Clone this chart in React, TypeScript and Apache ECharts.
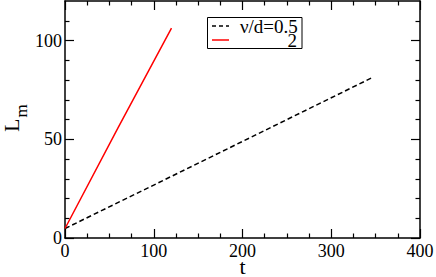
import React, { useEffect, useRef } from "react";
import * as echarts from "echarts";

const tDashed = [0, 100, 200, 300, 347];
const lmDashed = [4.8, 26.8, 48.9, 71.0, 81.4];
const tRed = [0, 60, 120];
const lmRed = [4.8, 56.0, 106.3];
const seriesNames = ["ν/d=0.5", "2"];
const xTicks = [0, 100, 200, 300, 400];
const yTicks = [0, 50, 100];
const yNameMain = "L";
const yNameSub = "m";
const xName = "t";

const FONT = "'Liberation Serif', 'DejaVu Serif', serif";

export default function App() {
  const ref = useRef<HTMLDivElement>(null);
  useEffect(() => {
    if (!ref.current) return;
    const chart = echarts.init(ref.current, undefined, { renderer: "svg" });
    const axisCommon = {
      type: "value" as const,
      axisLine: { show: true, onZero: false, lineStyle: { color: "#000", width: 1.5 } },
      axisTick: { show: true, inside: true, length: 9, lineStyle: { color: "#000", width: 1.2 } },
      minorTick: { show: true, length: 4.5, lineStyle: { color: "#000", width: 1.2 } },
      splitLine: { show: false },
      minorSplitLine: { show: false },
    };
    chart.setOption({
      animation: false,
      backgroundColor: "#fff",
      textStyle: { fontFamily: FONT },
      grid: { left: 65, right: 16, top: 1, bottom: 39, containLabel: false, outerBoundsMode: "none" },
      xAxis: [
        {
          ...axisCommon,
          min: xTicks[0],
          max: xTicks[xTicks.length - 1],
          interval: 100,
          minorTick: { ...axisCommon.minorTick, splitNumber: 4 },
          axisLabel: { color: "#000", fontSize: 18, fontFamily: FONT, margin: 4 },
          name: xName,
          nameLocation: "middle",
          nameGap: 17,
          nameMoveOverlap: false,
          nameTextStyle: { color: "#000", fontSize: 22, fontFamily: FONT },
        },
        {
          ...axisCommon,
          position: "top",
          min: xTicks[0],
          max: xTicks[xTicks.length - 1],
          interval: 100,
          minorTick: { ...axisCommon.minorTick, splitNumber: 4 },
          axisLabel: { show: false },
        },
      ],
      yAxis: [
        {
          ...axisCommon,
          min: 0,
          max: 120,
          interval: 50,
          minorTick: { ...axisCommon.minorTick, splitNumber: 5 },
          axisLabel: {
            color: "#000",
            fontSize: 18,
            fontFamily: FONT,
            margin: 3,
            customValues: yTicks,
          },
          axisTick: { ...axisCommon.axisTick, customValues: yTicks },
        },
        {
          ...axisCommon,
          position: "right",
          min: 0,
          max: 120,
          interval: 50,
          minorTick: { ...axisCommon.minorTick, splitNumber: 5 },
          axisTick: { ...axisCommon.axisTick, customValues: yTicks },
          axisLabel: { show: false },
        },
      ],
      graphic: [
        {
          type: "text",
          x: 11,
          y: 132,
          rotation: Math.PI / 2,
          style: { text: yNameMain, fill: "#000", font: `22px ${FONT}`, align: "left", verticalAlign: "middle" },
        },
        {
          type: "text",
          x: 21.5,
          y: 117.5,
          rotation: Math.PI / 2,
          style: { text: yNameSub, fill: "#000", font: `17px ${FONT}`, align: "left", verticalAlign: "middle" },
        },
        {
          type: "rect",
          shape: { x: 207.5, y: 17.5, width: 94.5, height: 31 },
          style: { fill: "#fff", stroke: "#000", lineWidth: 1 },
          z: 100,
        },
        {
          type: "line",
          shape: { x1: 212, y1: 26, x2: 229, y2: 26 },
          style: { stroke: "#000", lineWidth: 1.5, lineDash: [4, 3] },
          z: 101,
        },
        {
          type: "text",
          x: 240,
          y: 26,
          style: { text: seriesNames[0], fill: "#000", font: `19px ${FONT}`, verticalAlign: "middle" },
          z: 101,
        },
        {
          type: "line",
          shape: { x1: 212, y1: 40, x2: 229, y2: 40 },
          style: { stroke: "#ff0000", lineWidth: 1.5 },
          z: 101,
        },
        {
          type: "text",
          x: 297,
          y: 40.5,
          style: { text: seriesNames[1], fill: "#000", font: `19px ${FONT}`, align: "right", verticalAlign: "middle" },
          z: 101,
        },
      ],
      series: [
        {
          name: seriesNames[0],
          type: "line",
          xAxisIndex: 0,
          yAxisIndex: 0,
          data: tDashed.map((t, i) => [t, lmDashed[i]]),
          showSymbol: false,
          symbol: "none",
          lineStyle: { color: "#000", width: 1.5, type: [5, 3] },
          itemStyle: { color: "#000" },
        },
        {
          name: seriesNames[1],
          type: "line",
          xAxisIndex: 0,
          yAxisIndex: 0,
          data: tRed.map((t, i) => [t, lmRed[i]]),
          showSymbol: false,
          symbol: "none",
          lineStyle: { color: "#ff0000", width: 1.5 },
          itemStyle: { color: "#ff0000" },
        },
      ],
    });
    return () => chart.dispose();
  }, []);
  return <div ref={ref} style={{ width: 436, height: 277, position: "fixed", left: 0, top: 0 }} />;
}
